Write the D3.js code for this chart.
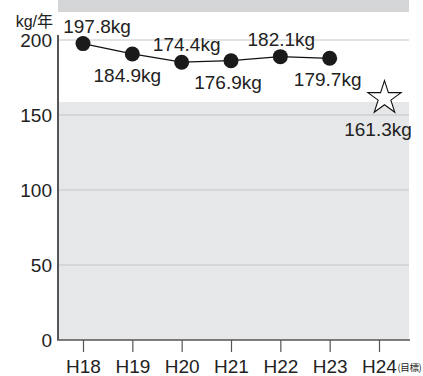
<!DOCTYPE html>
<html><head><meta charset="utf-8">
<script src="https://cdn.jsdelivr.net/npm/d3@7"></script>
<style>
html,body{margin:0;padding:0;background:#fff;}
svg{display:block;font-family:"Liberation Sans","Noto Sans CJK JP",sans-serif;}
</style></head>
<body>
<svg id="c" width="423" height="376"></svg>
<script>
// Data
const years = ["H18","H19","H20","H21","H22","H23","H24"];
const actualLabels = ["197.8kg","184.9kg","174.4kg","176.9kg","182.1kg","179.7kg"];
// positions of the dots as read against the y axis in the picture
const plotValues = [197.6, 190.7, 185.2, 186.2, 188.9, 187.8];
const targetValue = 161.3;
const targetLabel = "161.3kg";
const yTicks = [0, 50, 100, 150, 200];
const unitLabel = "kg/年";
const targetNote = "(目標)";
const shadeTop = 158.7;

(function () {
const svg = d3.select("#c");
const mLeft = 58, mRight = 409, mTop = 40, mBottom = 340;
const x = d3.scalePoint().domain(years).range([83, 379]);
const y = d3.scaleLinear().domain([0, 200]).range([mBottom, mTop]);

// top gray band
svg.append("rect").attr("x", mLeft).attr("y", 0).attr("width", mRight - mLeft).attr("height", 12).attr("fill", "#d4d5d7");
// lower shaded region
svg.append("rect").attr("x", mLeft).attr("y", y(shadeTop)).attr("width", mRight - mLeft)
  .attr("height", mBottom - y(shadeTop)).attr("fill", "#e6e7e8");

// gridlines
svg.append("g").selectAll("line").data(yTicks.filter(d => d > 0)).join("line")
  .attr("x1", mLeft).attr("x2", mRight).attr("y1", d => y(d)).attr("y2", d => y(d))
  .attr("stroke", "#c4c5c7").attr("stroke-width", 1);

// y axis
const yAxis = svg.append("g").attr("transform", `translate(${mLeft},0)`)
  .call(d3.axisLeft(y).tickValues(yTicks).tickSize(0).tickPadding(6));
yAxis.select(".domain").remove();
yAxis.selectAll("text").attr("font-size", 19).attr("fill", "#222")
  .attr("font-family", "Liberation Sans, sans-serif");
svg.append("line").attr("x1", mLeft).attr("x2", mLeft).attr("y1", 35).attr("y2", mBottom)
  .attr("stroke", "#555").attr("stroke-width", 2);

// x axis
const xAxis = svg.append("g").attr("transform", `translate(0,${mBottom})`)
  .call(d3.axisBottom(x).tickSize(12).tickPadding(8));
xAxis.select(".domain").remove();
xAxis.selectAll(".tick line").attr("stroke", "#555").attr("stroke-width", 1.2);
xAxis.selectAll("text").attr("font-size", 19).attr("fill", "#222")
  .attr("font-family", "Liberation Sans, sans-serif");
svg.append("line").attr("x1", mLeft - 1).attr("x2", mRight + 1).attr("y1", mBottom).attr("y2", mBottom)
  .attr("stroke", "#555").attr("stroke-width", 1.5);

svg.append("text").attr("x", x("H24") + 18.5).attr("y", 371).attr("font-size", 9.5)
  .attr("letter-spacing", -0.4)
  .attr("fill", "#222").attr("font-family", "Noto Sans CJK JP, sans-serif").text(targetNote);

// unit
svg.append("text").attr("x", 53).attr("y", 27).attr("text-anchor", "end").attr("font-size", 16)
  .attr("fill", "#222").text(unitLabel);

// line and dots
const pts = plotValues.map((v, i) => [x(years[i]), y(v)]);
svg.append("path").attr("d", d3.line()(pts)).attr("fill", "none").attr("stroke", "#111").attr("stroke-width", 1.2);
svg.append("g").selectAll("circle").data(pts).join("circle")
  .attr("cx", d => d[0]).attr("cy", d => d[1]).attr("r", 7.5).attr("fill", "#1a1a1a");

// labels
const dxs = [14, -5, 5, -3, 1, -2];
svg.append("g").selectAll("text").data(actualLabels).join("text")
  .attr("x", (d, i) => pts[i][0] + dxs[i])
  .attr("y", (d, i) => pts[i][1] + (i % 2 === 0 ? -11 : 28))
  .attr("text-anchor", "middle").attr("font-size", 19).attr("fill", "#222").text(d => d);

// star target
const sx = x("H24") + 5.5, sy = y(targetValue);
const R = 17.5, r = R * 0.382;
const starPts = d3.range(10).map(k => {
  const a = -Math.PI / 2 + k * Math.PI / 5;
  const rr = k % 2 === 0 ? R : r;
  return [sx + rr * Math.cos(a), sy + rr * Math.sin(a)];
});
svg.append("path").attr("d", d3.line()(starPts) + "Z").attr("fill", "#fff")
  .attr("stroke", "#111").attr("stroke-width", 1.1);
svg.append("text").attr("x", x("H24") - 1).attr("y", sy + 38).attr("text-anchor", "middle")
  .attr("font-size", 19).attr("fill", "#222").text(targetLabel);
})();
</script>
</body></html>
